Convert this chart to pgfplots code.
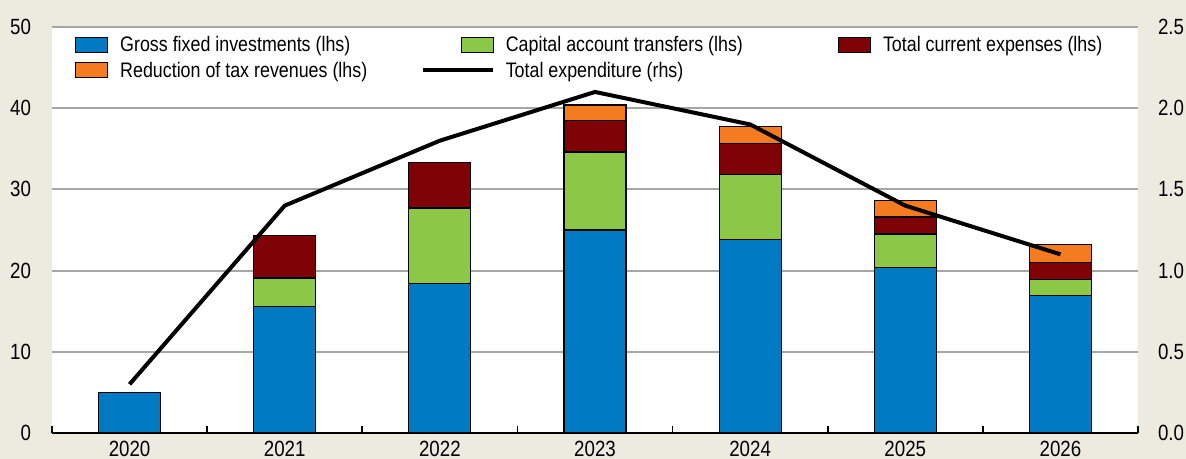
\documentclass[border=0pt]{standalone}
\usepackage{pgfplots}
\pgfplotsset{compat=1.18}
\usepackage{fontspec}
\setmainfont{Liberation Sans}[FakeStretch=0.85]
\definecolor{bg}{HTML}{EDEAE0}
\definecolor{cblue}{HTML}{007AC2}
\definecolor{cgreen}{HTML}{8CC847}
\definecolor{cred}{HTML}{7F0306}
\definecolor{corange}{HTML}{F47B20}
\definecolor{cgrid}{HTML}{A6A6A6}
\pgfplotsset{
  legimg/.style={legend image code/.code={\path (0pt,0pt) (41pt,0pt); \draw[##1,line width=0.6pt] (19pt,-3.2pt) rectangle (35pt,4.3pt);}},
}
\begin{document}
\begin{tikzpicture}
\useasboundingbox (-26pt,-13pt) rectangle (567pt,216.5pt);
\fill[bg] (-26pt,-13pt) rectangle (567pt,216.5pt);
\begin{axis}[
  at={(0pt,0pt)}, anchor=south west,
  scale only axis, width=543pt, height=203pt,
  xmin=-0.5, xmax=6.5, ymin=0, ymax=50,
  ybar stacked, bar width=0.4,
  axis background/.style={fill=white},
  axis x line=bottom, axis y line=left,
  y axis line style={draw=none},
  x axis line style={line width=0.8pt, -},
  xtick={0,1,2,3,4,5,6},
  xticklabels={2020,2021,2022,2023,2024,2025,2026},
  minor xtick={-0.5,0.5,1.5,2.5,3.5,4.5,5.5,6.5},
  tick align=inside,
  major tick length=0pt,
  minor tick length=3.5pt,
  minor tick style={black, line width=0.8pt},
  ytick={0,10,20,30,40,50},
  ymajorgrids, grid style={cgrid, line width=1pt},
  tick label style={font=\fontsize{11}{13}\selectfont},
  /pgf/number format/assume math mode=true,
  yticklabel style={xshift=-7pt},
  xticklabel style={yshift=-0.3pt},
  legend columns=3,
  legend style={draw=none, fill=none, inner sep=0pt, outer sep=0pt,
    at={(0pt,203pt)}, anchor=north west, xshift=-7.5pt, yshift=-3pt,
    font=\fontsize{10.5}{12}\selectfont,
    nodes={inner xsep=0pt, inner ysep=1.5pt, text height=7.8pt, text depth=2pt}},
  legend cell align=left,
]
\addplot[fill=cblue, draw=black, line width=0.6pt, legimg] coordinates {(0,5.0) (1,15.6) (2,18.4) (3,25.0) (4,23.8) (5,20.4) (6,16.9)};
\addlegendentry{\makebox[150.5pt][l]{Gross fixed investments (lhs)}}
\addplot[fill=cgreen, draw=black, line width=0.6pt, legimg] coordinates {(0,0) (1,3.5) (2,9.3) (3,9.6) (4,8.0) (5,4.1) (6,2.0)};
\addlegendentry{\makebox[147pt][l]{Capital account transfers (lhs)}}
\addplot[fill=cred, draw=black, line width=0.6pt, legimg] coordinates {(0,0) (1,5.2) (2,5.6) (3,3.9) (4,3.9) (5,2.1) (6,2.1)};
\addlegendentry{Total current expenses (lhs)}
\addplot[fill=corange, draw=black, line width=0.6pt, legimg] coordinates {(0,0) (1,0) (2,0) (3,1.9) (4,2.0) (5,2.0) (6,2.2)};
\addlegendentry{\makebox[150.5pt][l]{Reduction of tax revenues (lhs)}}
\addlegendimage{legend image code/.code={\draw[black, line width=2pt] (0pt,0.5pt) -- (35pt,0.5pt); \path (41pt,0pt);}}
\addlegendentry{\makebox[147pt][l]{Total expenditure (rhs)}}
\end{axis}
\begin{axis}[
  at={(0pt,0pt)}, anchor=south west,
  scale only axis, width=543pt, height=203pt,
  xmin=-0.5, xmax=6.5, ymin=0, ymax=2.5,
  axis x line=none, axis y line*=right,
  y axis line style={draw=none},
  major tick length=0pt,
  ytick={0,0.5,1,1.5,2,2.5},
  yticklabel style={/pgf/number format/fixed, /pgf/number format/fixed zerofill, /pgf/number format/precision=1, xshift=6.5pt},
  tick label style={font=\fontsize{11}{13}\selectfont},
  /pgf/number format/assume math mode=true,
]
\addplot[black, line width=2pt, line join=miter] coordinates {(0,0.30) (1,1.40) (2,1.80) (3,2.10) (4,1.90) (5,1.40) (6,1.10)};
\end{axis}
\end{tikzpicture}
\end{document}
